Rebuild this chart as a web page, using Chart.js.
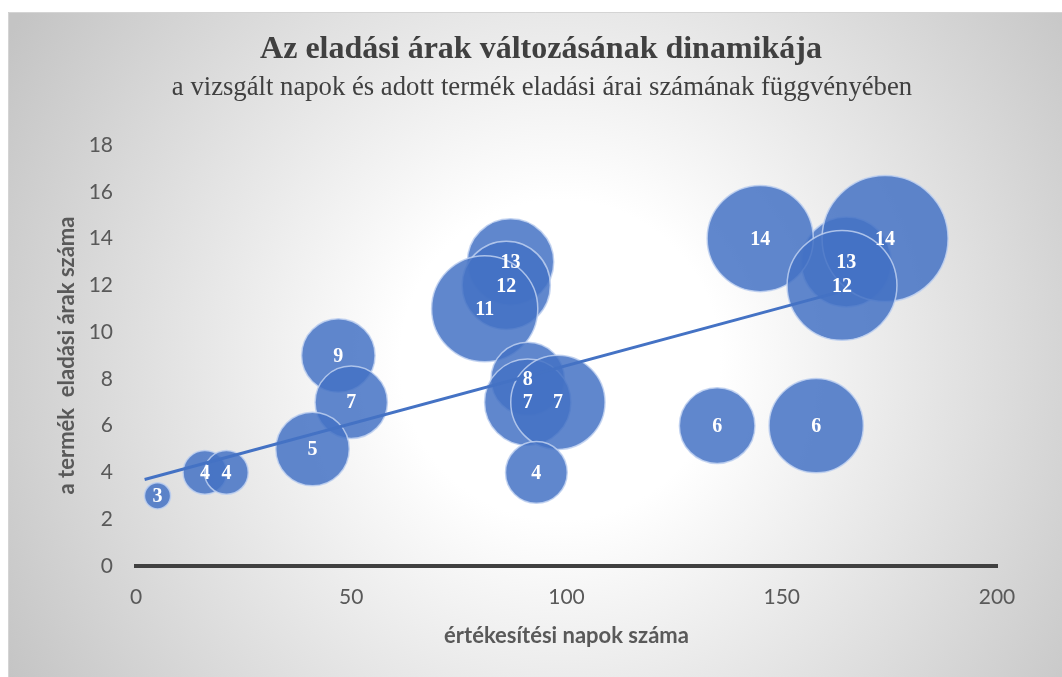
<!DOCTYPE html>
<html><head><meta charset="utf-8">
<script src="https://cdn.jsdelivr.net/npm/chart.js@4.4.0/dist/chart.umd.min.js"></script>
<style>html,body{margin:0;padding:0;background:#fff;overflow:hidden}</style>
</head><body>
<canvas id="c" width="1062" height="677"></canvas>
<script>
// ---- data ----
const days        = [165, 145, 174, 87, 86, 164, 81, 47, 91, 50, 91, 98, 135, 158, 41, 16, 21, 93, 5];
const priceCounts = [13, 14, 14, 13, 12, 12, 11, 9, 8, 7, 7, 7, 6, 6, 5, 4, 4, 4, 3];
const bubbleSizes = [51, 71, 100, 47, 49, 76, 71, 34, 34, 33, 47, 56, 36, 56, 34, 12, 12, 24, 4.3];
const trendX = [2, 163];
const trendY = [3.7, 11.7];
const xTicks = [0, 50, 100, 150, 200];
const yTicks = [0, 2, 4, 6, 8, 10, 12, 14, 16, 18];

const titleText = 'Az eladási árak változásának dinamikája';
const subtitleText = 'a vizsgált napok és adott termék eladási árai számának függvényében';
const xTitle = 'értékesítési napok száma';
const yTitle = 'a termék  eladási árak száma';

const RADIUS_SCALE = 6.3;
const SANS = 'Lato, "Open Sans", sans-serif';
const SERIF = '"Liberation Serif", "DejaVu Serif", serif';

const bubbleData = days.map((d, i) => ({ x: d, y: priceCounts[i], r: RADIUS_SCALE * Math.sqrt(bubbleSizes[i]) }));
const trendData = trendX.map((x, i) => ({ x: x, y: trendY[i] }));

const bgPlugin = {
  id: 'bg',
  beforeDraw(chart) {
    const ctx = chart.ctx;
    ctx.save();
    ctx.fillStyle = '#ffffff';
    ctx.fillRect(0, 0, chart.width, chart.height);
    const cx = 560, cy = 360;
    const g = ctx.createRadialGradient(cx, cy, 0, cx, cy, 640);
    g.addColorStop(0, '#ffffff');
    g.addColorStop(0.25, '#ffffff');
    g.addColorStop(1, '#c4c4c4');
    ctx.fillStyle = g;
    ctx.fillRect(8, 12, chart.width - 8, chart.height - 12);
    ctx.strokeStyle = '#d4d4d4';
    ctx.lineWidth = 1;
    ctx.beginPath();
    ctx.moveTo(8.5, chart.height);
    ctx.lineTo(8.5, 12.5);
    ctx.lineTo(chart.width, 12.5);
    ctx.stroke();
    // titles
    ctx.fillStyle = '#404040';
    ctx.textAlign = 'center';
    ctx.textBaseline = 'middle';
    ctx.font = 'bold 32px ' + SERIF;
    ctx.fillText(titleText, 541, 50);
    ctx.font = '26.7px ' + SERIF;
    ctx.fillText(subtitleText, 542, 88);
    ctx.restore();
  }
};

const labelPlugin = {
  id: 'bubbleLabels',
  afterDatasetsDraw(chart) {
    const ctx = chart.ctx;
    const meta = chart.getDatasetMeta(1);
    ctx.save();
    ctx.fillStyle = '#ffffff';
    ctx.font = 'bold 20px ' + SERIF;
    ctx.textAlign = 'center';
    ctx.textBaseline = 'middle';
    meta.data.forEach((el, i) => {
      ctx.fillText(String(priceCounts[i]), el.x, el.y + 1);
    });
    ctx.restore();
  }
};

new Chart(document.getElementById('c'), {
  data: {
    datasets: [
      {
        type: 'line',
        data: trendData,
        borderColor: '#4472C4',
        borderWidth: 3,
        pointRadius: 0,
        fill: false,
        order: 0
      },
      {
        type: 'bubble',
        data: bubbleData,
        backgroundColor: 'rgba(68,114,196,0.85)',
        borderColor: 'rgba(190,208,240,0.85)',
        borderWidth: 1.5,
        hoverRadius: 0,
        order: 1
      }
    ]
  },
  options: {
    responsive: false,
    animation: false,
    events: [],
    layout: { padding: { left: 0, top: 145, right: 65, bottom: 0 } },
    plugins: { legend: { display: false }, tooltip: { enabled: false } },
    scales: {
      x: {
        type: 'linear',
        min: xTicks[0], max: xTicks[xTicks.length - 1],
        afterBuildTicks(scale) { scale.ticks = xTicks.map(v => ({ value: v })); },
        afterFit(scale) { scale.height = 111; },
        grid: { display: false, drawTicks: false },
        border: { display: true, color: '#404040', width: 4 },
        ticks: { color: '#595959', font: { family: SANS, size: 21 }, padding: 19 },
        title: { display: true, text: xTitle, color: '#595959', font: { family: SANS, size: 22, weight: 'bold' }, padding: { top: 0, bottom: 28 } }
      },
      y: {
        type: 'linear',
        min: yTicks[0], max: yTicks[yTicks.length - 1],
        afterBuildTicks(scale) { scale.ticks = yTicks.map(v => ({ value: v })); },
        afterFit(scale) { scale.width = 136; },
        grid: { display: false, drawTicks: false },
        border: { display: false },
        ticks: { color: '#595959', font: { family: SANS, size: 21 }, padding: 23 },
        title: { display: true, text: yTitle, color: '#595959', font: { family: SANS, size: 22, weight: 'bold' }, padding: { top: 54, bottom: 0 } }
      }
    }
  },
  plugins: [bgPlugin, labelPlugin]
});
</script>
</body></html>
